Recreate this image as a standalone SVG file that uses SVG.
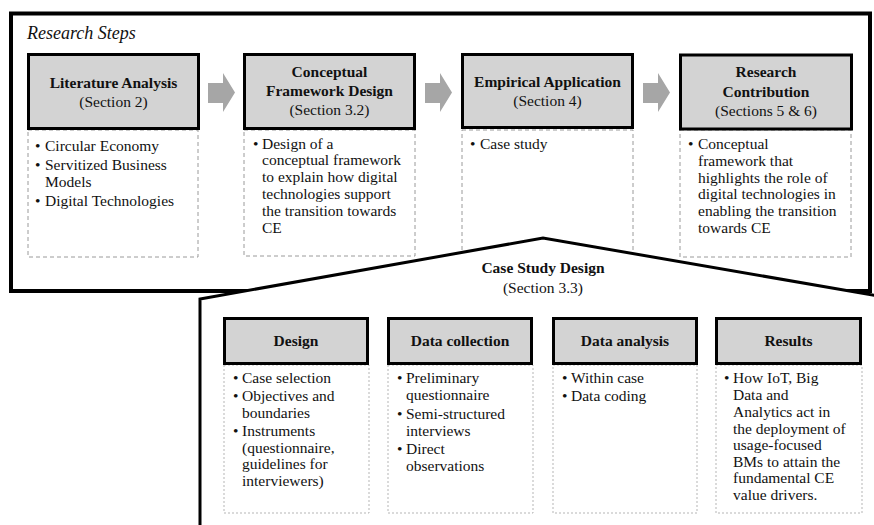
<svg xmlns="http://www.w3.org/2000/svg" width="874" height="525" viewBox="0 0 874 525">
<defs>
<style>
text{font-family:"Liberation Serif","Times New Roman",serif;font-size:15.5px;fill:#111}
.b{font-weight:bold}
.c{text-anchor:middle}
.hdr{fill:#d3d3d3;stroke:#000;stroke-width:3}
.det{fill:none;stroke:#9a9a9a;stroke-width:1;stroke-dasharray:4 3}
.det2{fill:none;stroke:#b5b5b5;stroke-width:1;stroke-dasharray:2 2}
.frame{fill:#fff;stroke:#000;stroke-width:4}
.arrow{fill:#a6a6a6}
</style>
<path id="arr" d="M0,10 H15 V0 L27,19.5 L15,39 V30 H0 Z"/>
</defs>
<rect width="874" height="525" fill="#fff"/>
<rect id="research-frame" class="frame" x="11" y="13.5" width="859" height="277.5"/>
<text x="27" y="39" style="font-style:italic;font-size:18px">Research Steps</text>

<g id="literature-analysis">
<rect class="det" x="28" y="130" width="170" height="127"/>
<rect class="hdr" x="28.5" y="54.5" width="170" height="74"/>
<text class="b c" x="113.5" y="88">Literature Analysis</text>
<text class="c" x="113.5" y="107">(Section 2)</text>
<text x="35" y="151">•</text><text x="45" y="151">Circular Economy</text>
<text x="35" y="170">•</text><text x="45" y="170">Servitized Business</text>
<text x="45" y="187">Models</text>
<text x="35" y="206">•</text><text x="45" y="206">Digital Technologies</text>
</g>

<g id="conceptual-framework">
<rect class="det" x="244" y="130" width="171" height="126"/>
<rect class="hdr" x="244.5" y="54.5" width="170" height="74"/>
<text class="b c" x="329.5" y="77">Conceptual</text>
<text class="b c" x="329.5" y="96">Framework Design</text>
<text class="c" x="329.5" y="115">(Section 3.2)</text>
<text x="253" y="148.5">•</text>
<text x="262" y="148.5">Design of a</text>
<text x="262" y="165">conceptual framework</text>
<text x="262" y="182">to explain how digital</text>
<text x="262" y="198.5">technologies support</text>
<text x="262" y="215.5">the transition towards</text>
<text x="262" y="232.5">CE</text>
</g>

<g id="empirical-application">
<rect class="det" x="462" y="130" width="171" height="127"/>
<rect class="hdr" x="462.5" y="54.5" width="170" height="73"/>
<text class="b c" x="547.5" y="87">Empirical Application</text>
<text class="c" x="547.5" y="106">(Section 4)</text>
<text x="470" y="149">•</text><text x="480" y="149">Case study</text>
</g>

<g id="research-contribution">
<rect class="det" x="680" y="130" width="171" height="127"/>
<rect class="hdr" x="680.5" y="55" width="171" height="74"/>
<text class="b c" x="766" y="77">Research</text>
<text class="b c" x="766" y="97">Contribution</text>
<text class="c" x="766" y="116">(Sections 5 &amp; 6)</text>
<text x="688" y="149">•</text>
<text x="698" y="149">Conceptual</text>
<text x="698" y="166">framework that</text>
<text x="698" y="182.5">highlights the role of</text>
<text x="698" y="199">digital technologies in</text>
<text x="698" y="216">enabling the transition</text>
<text x="698" y="232.5">towards CE</text>
</g>

<g id="connectors">
<use href="#arr" class="arrow" transform="translate(208,73)"/>
<use href="#arr" class="arrow" transform="translate(425,73)"/>
<use href="#arr" class="arrow" transform="translate(643,73)"/>
</g>

<polygon id="case-study-frame" points="200,530 200,299 543,238 884,297 884,530" fill="#fff" stroke="#000" stroke-width="3" stroke-linejoin="miter"/>
<text class="b c" x="543" y="273">Case Study Design</text>
<text class="c" x="543" y="293">(Section 3.3)</text>

<g id="design">
<rect class="det2" x="224" y="365" width="145" height="148"/>
<rect class="hdr" x="224.5" y="318.5" width="143" height="45"/>
<text class="b c" x="296" y="345.5">Design</text>
<text x="233" y="383">•</text><text x="242" y="383">Case selection</text>
<text x="233" y="401">•</text><text x="242" y="401">Objectives and</text>
<text x="242" y="417.5">boundaries</text>
<text x="233" y="436">•</text><text x="242" y="436">Instruments</text>
<text x="242" y="452.5">(questionnaire,</text>
<text x="242" y="469">guidelines for</text>
<text x="242" y="486">interviewers)</text>
</g>

<g id="data-collection">
<rect class="det2" x="388" y="365" width="145" height="148"/>
<rect class="hdr" x="388.5" y="318.5" width="143" height="45"/>
<text class="b c" x="460" y="345.5">Data collection</text>
<text x="397" y="383">•</text><text x="406" y="383">Preliminary</text>
<text x="406" y="400">questionnaire</text>
<text x="397" y="418.5">•</text><text x="406" y="418.5">Semi-structured</text>
<text x="406" y="435.5">interviews</text>
<text x="397" y="454">•</text><text x="406" y="454">Direct</text>
<text x="406" y="470.5">observations</text>
</g>

<g id="data-analysis">
<rect class="det2" x="553" y="365" width="144" height="148"/>
<rect class="hdr" x="553.5" y="318.5" width="143" height="45"/>
<text class="b c" x="625" y="345.5">Data analysis</text>
<text x="562" y="383">•</text><text x="571" y="383">Within case</text>
<text x="562" y="401">•</text><text x="571" y="401">Data coding</text>
</g>

<g id="results">
<rect class="det2" x="716" y="365" width="146" height="148"/>
<rect class="hdr" x="716.5" y="318.5" width="144" height="45"/>
<text class="b c" x="788.5" y="345.5">Results</text>
<text x="724" y="383">•</text>
<text x="733" y="383">How IoT, Big</text>
<text x="733" y="400">Data and</text>
<text x="733" y="417">Analytics act in</text>
<text x="733" y="433.5">the deployment of</text>
<text x="733" y="450">usage-focused</text>
<text x="733" y="466.5">BMs to attain the</text>
<text x="733" y="483">fundamental CE</text>
<text x="733" y="499.5">value drivers.</text>
</g>
</svg>
